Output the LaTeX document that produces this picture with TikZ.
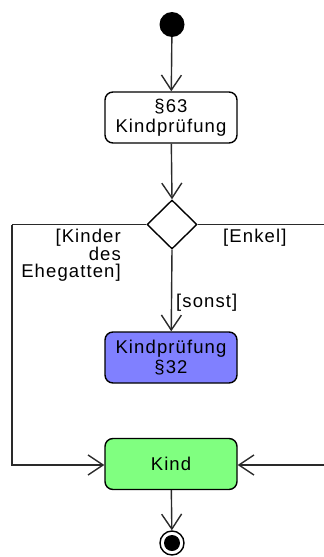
\documentclass[tikz,border=0pt]{standalone}
\usepackage{fontspec}
\setmainfont{Liberation Sans}[LetterSpace=6]
\usetikzlibrary{arrows.meta,shapes.geometric}
\definecolor{linegray}{HTML}{2A2A2A}
\definecolor{actblue}{HTML}{8080FF}
\definecolor{actgreen}{HTML}{80FF80}
\begin{document}
\begin{tikzpicture}[x=1pt,y=-1pt,
  font=\fontsize{18.5}{20}\selectfont,
  activity/.style={draw=black,line width=1.4pt,rounded corners=8pt,
    minimum width=132pt,minimum height=51pt,align=center,inner sep=0pt},
  decision/.style={draw=black,line width=1.4pt,diamond,minimum width=50pt,
    minimum height=49pt,inner sep=0pt},
  flow/.style={draw=linegray,line width=1.4pt,
    -{Straight Barb[length=15pt,width=20pt,line width=1.4pt]}},
  plain/.style={draw=linegray,line width=1.4pt},
  guard/.style={inner sep=0pt,align=right}]
\useasboundingbox (0,0) rectangle (324,557);

% start and final markers
\node[circle,fill=black,minimum size=25pt,inner sep=0pt] (start) at (172,24.5) {};
\node[circle,draw=black,fill=white,line width=1.4pt,minimum size=24pt,inner sep=0pt] (final) at (172,543) {};
\fill[black] (final.center) circle (8pt);

% activities
\node[activity] (p63) at (171,117.5) {§63\\Kindprüfung};
\node[decision] (dec) at (172,224.5) {};
\node[activity,fill=actblue] (p32) at (171,357.5) {Kindprüfung\\§32};
\node[activity,fill=actgreen] (kind) at (171,464) {Kind};

% free ends of the side branches
\coordinate (lt) at (12,224.5);
\coordinate (lb) at (12,465);
\coordinate (rt) at (324,224.5);
\coordinate (rb) at (324,465);

% control flow
\draw[flow] (start) -- (p63);
\draw[flow] (p63) -- (dec.north);
\draw[flow] (dec.south) -- (p32);
\draw[plain] (dec.west) -- (lt);
\draw[flow] (lt) -- (lb) -- (kind.west |- lb);
\draw[plain] (dec.east) -- (rt);
\draw[flow] (rb) -- (kind.east |- rb);
\draw[flow] (kind) -- (final);

% guards
\node[guard,anchor=north east,font=\fontsize{18.5}{17.5}\selectfont] (gkinder) at (121,229) {[Kinder\\des\\Ehegatten]};
\node[guard,anchor=west] (genkel) at (223,238) {[Enkel]};
\node[guard,anchor=west] (gsonst) at (176,303) {[sonst]};
\end{tikzpicture}
\end{document}
